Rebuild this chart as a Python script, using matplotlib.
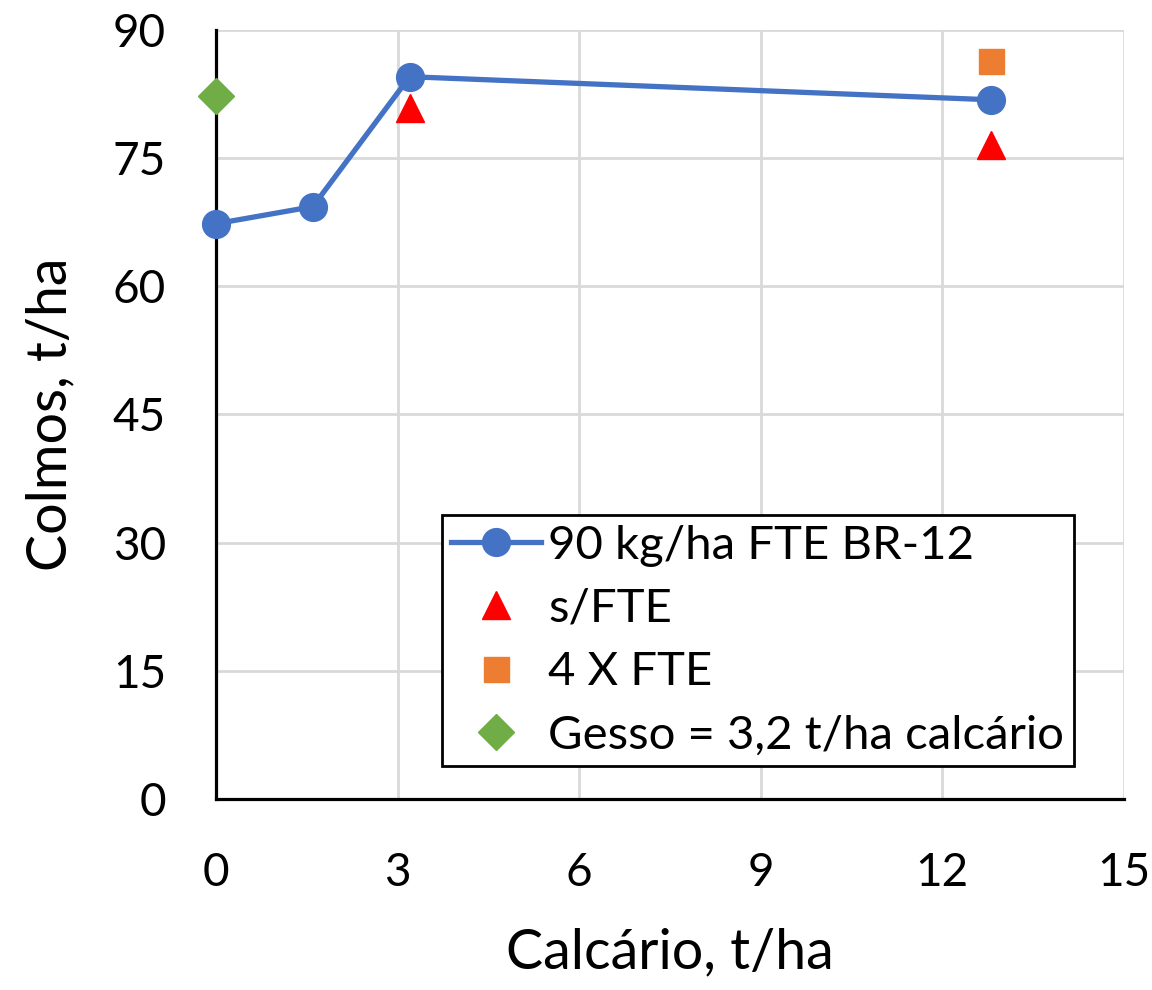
import matplotlib.pyplot as plt

# data
calcario = [0, 1.6, 3.2, 12.8]
colmos_fte = [67.3, 69.3, 84.5, 81.8]
sem_fte_x = [3.2, 12.8]
sem_fte_y = [80.8, 76.5]
fte4_x = [12.8]
fte4_y = [86.3]
gesso_x = [0]
gesso_y = [82.3]
xticks = [0, 3, 6, 9, 12, 15]
yticks = [0, 15, 30, 45, 60, 75, 90]

plt.rcParams["font.family"] = ["Lato", "DejaVu Sans"]

fig = plt.figure(figsize=(11.52, 9.9), dpi=100)
ax = fig.add_axes([0.1875, 0.193, 0.788, 0.777])

ax.plot(calcario, colmos_fte, color="#4472C4", lw=3.8, marker="o", ms=20,
        label="90 kg/ha FTE BR-12", zorder=3, clip_on=False)
ax.plot(sem_fte_x, sem_fte_y, ls="none", marker="^", ms=20, color="#FF0000",
        label="s/FTE", zorder=4, clip_on=False)
ax.plot(fte4_x, fte4_y, ls="none", marker="s", ms=18, color="#ED7D31",
        label="4 X FTE", zorder=4, clip_on=False)
ax.plot(gesso_x, gesso_y, ls="none", marker="D", ms=18, color="#70AD47",
        label="Gesso = 3,2 t/ha calcário", zorder=4, clip_on=False)

ax.set_xlim(0, 15)
ax.set_ylim(0, 90)
ax.set_xticks(xticks)
ax.set_yticks(yticks)
ax.grid(True, color="#D9D9D9", lw=2)
ax.set_axisbelow(True)
for s in ["top", "right"]:
    ax.spines[s].set_visible(False)
for s in ["left", "bottom"]:
    ax.spines[s].set_color("black")
    ax.spines[s].set_linewidth(2.3)
ax.tick_params(axis="x", length=0, labelsize=33, pad=38)
ax.tick_params(axis="y", length=0, labelsize=33, pad=36)

ax.set_xlabel("Calcário, t/ha", fontsize=40, labelpad=24)
ax.set_ylabel("Colmos, t/ha", fontsize=40, labelpad=26)

leg = ax.legend(loc="lower left", bbox_to_anchor=(0.249, 0.043), fontsize=34,
                frameon=True, fancybox=False, edgecolor="black", framealpha=1,
                handlelength=1.9, handletextpad=0.15, borderpad=0.2,
                labelspacing=0.45, borderaxespad=0)
leg.get_frame().set_linewidth(2)

fig.savefig("out.png", dpi=100)
